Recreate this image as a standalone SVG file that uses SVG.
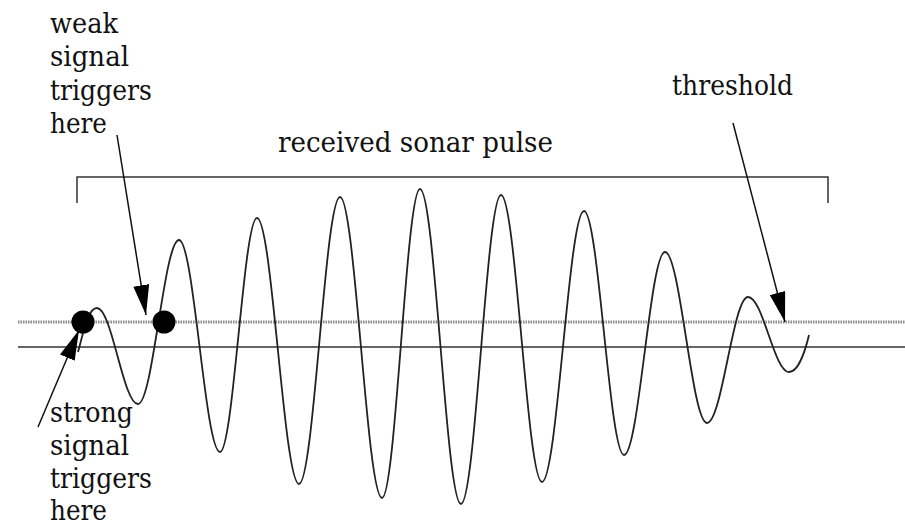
<svg xmlns="http://www.w3.org/2000/svg" width="905" height="527" viewBox="0 0 905 527">
<style>
  .lbl { font-family: "DejaVu Serif", "Liberation Serif", serif; font-size: 27px; fill: #111; }
  .axis { stroke: #333; stroke-width: 1.5; fill: none; }
  .thr { stroke: #8a8a8a; stroke-width: 3; stroke-dasharray: 1.5 1; fill: none; }
  .wave { stroke: #222; stroke-width: 1.8; fill: none; }
  .arr { stroke: #111; stroke-width: 1.5; fill: none; marker-end: url(#ah); }
</style>
<defs>
  <marker id="ah" viewBox="0 0 30 16" refX="30" refY="8" markerWidth="30" markerHeight="16" orient="auto" markerUnits="userSpaceOnUse">
    <path d="M0,0 L30,8 L0,16 Z" fill="#000"/>
  </marker>
</defs>
<rect width="905" height="527" fill="#fff"/>
<g id="threshold-line">
  <line class="thr" x1="18" y1="322" x2="905" y2="322"/>
</g>
<g id="baseline">
  <line class="axis" x1="18" y1="347" x2="905" y2="347"/>
</g>
<g id="bracket">
  <path class="axis" d="M77,203 V177 H828 V203"/>
  <text class="lbl" x="278" y="152" textLength="275" lengthAdjust="spacingAndGlyphs">received sonar pulse</text>
</g>
<g id="wave">
  <path class="wave" d="M78,352 C84,330 88,308 97,308
    C111.9,308 123.1,404 138,404
    C152.9,404 164.1,240 179,240
    C193.9,240 205.1,452 220,452
    C233.4,452 243.6,218 257,218
    C272.2,218 283.8,484 299,484
    C313.9,484 325.1,197 340,197
    C355.2,197 366.8,498 382,498
    C395.8,498 406.2,189 420,189
    C434.9,189 446.1,504 461,504
    C475.5,504 486.5,195 501,195
    C515.9,195 527.1,482 542,482
    C557.2,482 568.8,211 584,211
    C598.5,211 609.5,455 624,455
    C638.9,455 650.1,252 665,252
    C680.2,252 691.8,423 707,423
    C721.9,423 733.1,297 748,297
    C762.9,297 774.1,372 789,372
    C798,372 805,352 809,335"/>
</g>
<g id="strong-dot"><circle cx="83" cy="322" r="11.5" fill="#000"/></g>
<g id="weak-dot"><circle cx="164" cy="322" r="11.5" fill="#000"/></g>
<g id="weak-label">
  <text class="lbl" x="50" y="33" textLength="68" lengthAdjust="spacingAndGlyphs">weak</text>
  <text class="lbl" x="50" y="66" textLength="79" lengthAdjust="spacingAndGlyphs">signal</text>
  <text class="lbl" x="50" y="100" textLength="102" lengthAdjust="spacingAndGlyphs">triggers</text>
  <text class="lbl" x="50" y="133" textLength="57" lengthAdjust="spacingAndGlyphs">here</text>
</g>
<g id="strong-label">
  <text class="lbl" x="50" y="422" textLength="83" lengthAdjust="spacingAndGlyphs">strong</text>
  <text class="lbl" x="50" y="455" textLength="79" lengthAdjust="spacingAndGlyphs">signal</text>
  <text class="lbl" x="50" y="488" textLength="102" lengthAdjust="spacingAndGlyphs">triggers</text>
  <text class="lbl" x="50" y="520" textLength="57" lengthAdjust="spacingAndGlyphs">here</text>
</g>
<g id="threshold-label">
  <text class="lbl" x="672" y="95" textLength="121" lengthAdjust="spacingAndGlyphs">threshold</text>
</g>
<g id="connectors">
  <line class="arr" x1="117" y1="135" x2="146" y2="315"/>
  <line class="arr" x1="38" y1="427" x2="79" y2="330"/>
  <line class="arr" x1="733" y1="123" x2="785" y2="322"/>
</g>
</svg>
